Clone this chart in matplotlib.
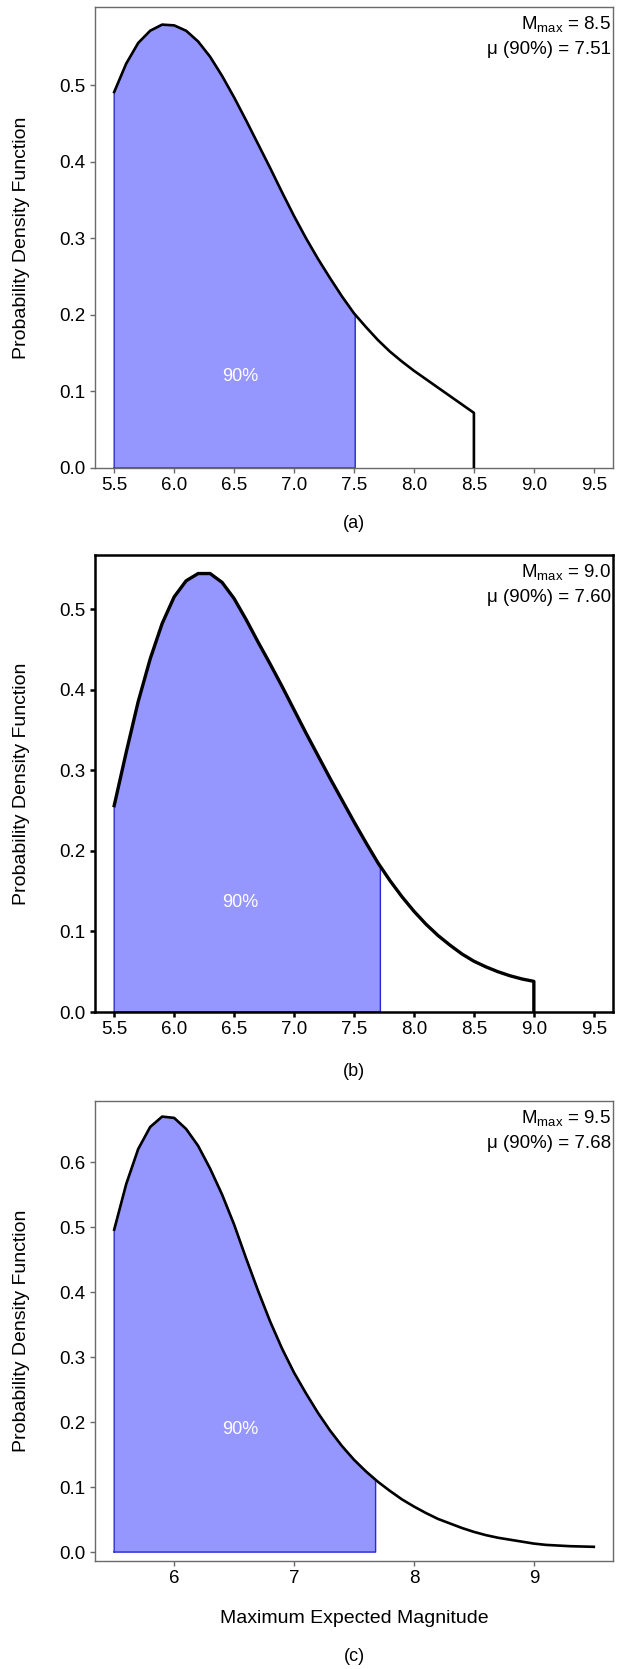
import numpy as np
import matplotlib
matplotlib.use("Agg")
import matplotlib.pyplot as plt

plt.rcParams['font.family'] = ['Liberation Sans', 'DejaVu Sans']
plt.rcParams['mathtext.fontset'] = 'custom'
plt.rcParams['mathtext.rm'] = 'Liberation Sans'
plt.rcParams['mathtext.it'] = 'Liberation Sans'

# density curves read at 0.1 magnitude steps
mag_a = np.round(np.arange(5.5, 8.501, 0.1), 1)
pdf_a = [0.491, 0.528, 0.555, 0.571, 0.579, 0.578, 0.571, 0.557, 0.537, 0.512,
         0.484, 0.454, 0.423, 0.392, 0.360, 0.329, 0.300, 0.273, 0.248, 0.224,
         0.202, 0.184, 0.167, 0.152, 0.139, 0.127, 0.116, 0.105, 0.094, 0.083,
         0.072]

mag_b = np.round(np.arange(5.5, 9.001, 0.1), 1)
pdf_b = [0.256, 0.322, 0.385, 0.438, 0.482, 0.515, 0.535, 0.544, 0.544, 0.533,
         0.513, 0.487, 0.459, 0.432, 0.404, 0.375, 0.346, 0.318, 0.290, 0.263,
         0.236, 0.210, 0.185, 0.163, 0.143, 0.125, 0.109, 0.095, 0.083, 0.072,
         0.063, 0.056, 0.050, 0.045, 0.041, 0.038]

mag_c = np.round(np.arange(5.5, 9.501, 0.1), 1)
pdf_c = [0.496, 0.566, 0.620, 0.654, 0.670, 0.668, 0.651, 0.625, 0.590, 0.550,
         0.504, 0.452, 0.402, 0.355, 0.313, 0.276, 0.244, 0.214, 0.187, 0.163,
         0.142, 0.124, 0.108, 0.094, 0.081, 0.070, 0.060, 0.051, 0.044, 0.037,
         0.031, 0.026, 0.022, 0.019, 0.016, 0.013, 0.011, 0.010, 0.009, 0.0085,
         0.008]

mmax = [8.5, 9.0, 9.5]
mu90 = ["7.51", "7.60", "7.68"]
fill_end = [7.51, 7.72, 7.68]
panel_tags = ["(a)", "(b)", "(c)"]
label_90_y = [0.12, 0.136, 0.188]

W, H = 623, 1669
fig = plt.figure(figsize=(W / 100, H / 100), dpi=100)

# axes boxes in pixels: (top, bottom)
boxes = [(7, 468), (555, 1012), (1101, 1561)]
tag_y = [524, 1072, 1656]
left_px, right_px = 95, 613

curves = [(mag_a, pdf_a), (mag_b, pdf_b), (mag_c, pdf_c)]
fill_col = '#9696FF'
edge_col = '#2a2ad0'

for i, (x, y) in enumerate(curves):
    top, bot = boxes[i]
    ax = fig.add_axes([left_px / W, 1 - bot / H, (right_px - left_px) / W, (bot - top) / H])
    x = np.asarray(x)
    y = np.asarray(y)

    # shaded 90% region
    xe = fill_end[i]
    ye = np.interp(xe, x, y)
    m = x < xe
    xf = np.concatenate([x[m], [xe]])
    yf = np.concatenate([y[m], [ye]])
    ax.fill_between(xf, 0, yf, color=fill_col, lw=0, zorder=1)
    ax.plot(np.concatenate([[xf[0]], xf, [xe, xf[0]]]),
            np.concatenate([[0], yf, [0, 0]]), color=edge_col, lw=1.0, zorder=2)

    frame_col = 'black' if i == 1 else '#6a6a6a'
    frame_lw = 1.8 if i == 1 else 1.0
    curve_lw = 2.4 if i == 1 else 1.9

    if i < 2:
        ax.plot(np.concatenate([x, [x[-1]]]), np.concatenate([y, [0]]),
                color='black', lw=curve_lw, zorder=3, solid_joinstyle='round')
    else:
        ax.plot(x, y, color='black', lw=curve_lw, zorder=3, solid_joinstyle='round')

    ax.text(6.55, label_90_y[i], "90%", color='white', fontsize=13,
            ha='center', va='center', zorder=4)

    ax.text(0.996, 0.963, r"M$_{\mathrm{max}}$ = %.1f" % mmax[i], transform=ax.transAxes,
            ha='right', va='center', fontsize=13.5)
    ax.text(0.996, 0.907, "\u03bc (90%) = " + mu90[i], transform=ax.transAxes,
            ha='right', va='center', fontsize=13.5)

    ax.set_xlim(5.34, 9.66)
    if i == 0:
        ax.set_ylim(0, 0.602)
        ax.set_yticks(np.arange(0, 0.51, 0.1))
    elif i == 1:
        ax.set_ylim(0, 0.567)
        ax.set_yticks(np.arange(0, 0.51, 0.1))
    else:
        ax.set_ylim(-0.0138, 0.694)
        ax.set_yticks(np.arange(0, 0.61, 0.1))

    if i < 2:
        ax.set_xticks(np.arange(5.5, 9.51, 0.5))
        ax.set_xticklabels(["%.1f" % v for v in np.arange(5.5, 9.51, 0.5)])
    else:
        ax.set_xticks([6, 7, 8, 9])
        ax.set_xticklabels(["6", "7", "8", "9"])
    ax.set_yticklabels(["%.1f" % v for v in ax.get_yticks()])

    for s in ax.spines.values():
        s.set_color(frame_col)
        s.set_linewidth(frame_lw)
    ax.tick_params(length=3.6, width=frame_lw, color=frame_col, labelsize=13.5, pad=3)

    fig.text(22 / W, 1 - (top + bot) / 2 / H, "Probability Density Function",
             rotation=90, ha='center', va='center', fontsize=14)
    fig.text((left_px + right_px) / 2 / W, 1 - tag_y[i] / H, panel_tags[i],
             ha='center', va='center', fontsize=13)

fig.text((left_px + right_px) / 2 / W, 1 - 1618 / H, "Maximum Expected Magnitude",
         ha='center', va='center', fontsize=14)

fig.savefig("out.png", dpi=100)
